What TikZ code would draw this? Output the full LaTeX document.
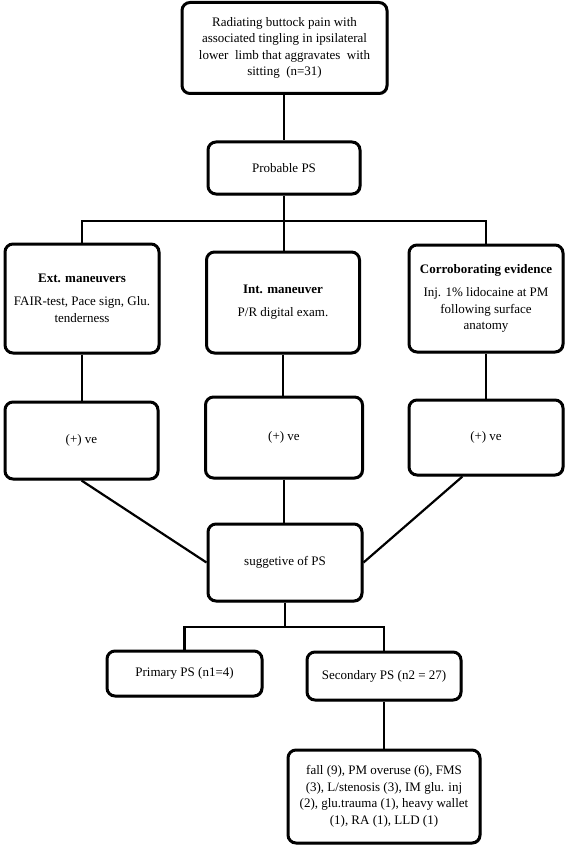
\documentclass[tikz,border=0pt]{standalone}
\usepackage{fontspec}
\setmainfont{Liberation Serif}
\usetikzlibrary{shadows,calc}
\begin{document}
\begin{tikzpicture}[x=1pt,y=-1pt,
  box/.style={draw=black, line width=3pt, rounded corners=8pt, fill=white,
    align=center, inner sep=0pt, font=\fontsize{13}{16.5}\selectfont,
    drop shadow={shadow xshift=1.3pt, shadow yshift=-1.3pt, opacity=0.35, fill=black}},
  conn/.style={line width=2.2pt, draw=black}]
\useasboundingbox (0,0) rectangle (567,853);

\node[box, minimum width=205pt, minimum height=91pt] (top) at (284.5,48)
  {Radiating buttock pain with\\associated tingling in ipsilateral\\lower\ \ limb that aggravates\ \ with\\sitting\ \ (n=31)};
\node[box, minimum width=152pt, minimum height=52pt] (prob) at (284,168) {Probable PS};

\node[box, minimum width=154pt, minimum height=109pt] (ext) at (82,298.5)
  {\textbf{Ext. maneuvers}\\[6.5pt]FAIR-test, Pace sign, Glu.\\tenderness};
\node[box, minimum width=153pt, minimum height=101pt] (int) at (283,302.5)
  {\textbf{Int. maneuver}\\[6.5pt]P/R digital exam.};
\node[box, minimum width=154pt, minimum height=107pt] (corr) at (486,298.5)
  {\textbf{Corroborating evidence}\\[6.5pt]Inj. 1\% lidocaine at PM\\following surface\\anatomy};

\node[box, minimum width=153pt, minimum height=77pt] (pL) at (81.5,440.5) {(+) ve};
\node[box, minimum width=157pt, minimum height=81pt] (pM) at (284,437.5) {(+) ve};
\node[box, minimum width=154pt, minimum height=75pt] (pR) at (486,437.5) {(+) ve};

\node[box, minimum width=154pt, minimum height=77pt] (sug) at (285,562.5) {suggetive of PS};

\node[box, minimum width=155pt, minimum height=45pt] (prim) at (184.5,673.5) {Primary PS (n1=4)};
\node[box, minimum width=154pt, minimum height=48pt] (sec) at (384,676) {Secondary PS (n2 = 27)};

\node[box, minimum width=192pt, minimum height=93pt] (fall) at (384,796.5)
  {fall (9), PM overuse (6), FMS\\(3), L/stenosis (3), IM glu. inj\\(2), glu.trauma (1), heavy wallet\\(1), RA (1), LLD (1)};

\coordinate (bus) at (284,221);
\coordinate (bus2) at (284,627);

\draw[conn] (prob.north |- top.south) -- (prob.north);
\draw[conn] (prob.south) -- (bus);
\draw[conn] (ext.north) |- (corr.north |- bus) -- (corr.north);
\draw[conn] (bus) -- (bus |- int.north);

\draw[conn] (ext.south) -- (ext.south |- pL.north);
\draw[conn] (int.south) -- (int.south |- pM.north);
\draw[conn] (corr.south) -- (pR.north);

\draw[conn] (pL.south) -- (sug.west);
\draw[conn] (pM.south) -- (pM.south |- sug.north);
\draw[conn] ($(pR.south west)!0.35!(pR.south east)$) -- (sug.east);

\draw[conn] (sug.south) -- (sug.south |- bus2);
\draw[conn] (prim.north) |- (sec.north |- bus2) -- (sec.north);
\draw[conn] (sec.south) -- (fall.north);
\end{tikzpicture}
\end{document}
